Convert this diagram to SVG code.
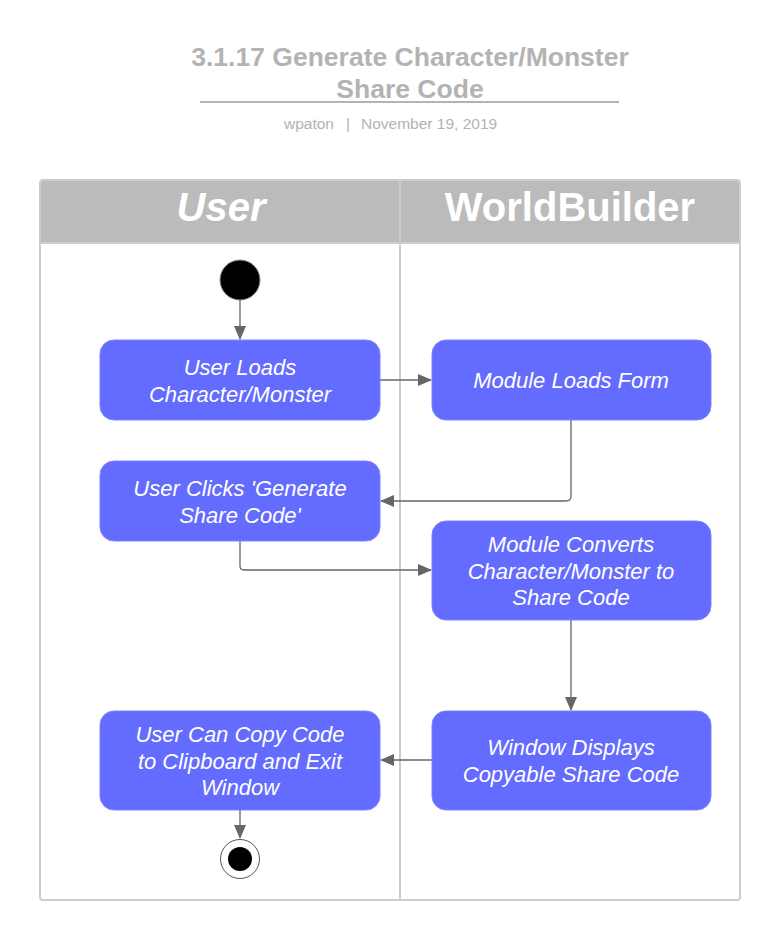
<svg xmlns="http://www.w3.org/2000/svg" width="780" height="940" viewBox="0 0 780 940">
<style>
.title{font-family:"Liberation Sans",Arial,sans-serif;font-weight:bold;font-size:26.5px;fill:#b3b3b3;text-anchor:middle}
.sub{font-family:"Liberation Sans",Arial,sans-serif;font-size:15.5px;fill:#b3b3b3}
.hdr{font-family:"Liberation Sans",Arial,sans-serif;font-weight:bold;font-size:40px;fill:#ffffff;text-anchor:middle}
.box{fill:#646bff;stroke:#7d84ff;stroke-width:1}
.lbl{font-family:"Liberation Sans",Arial,sans-serif;font-style:italic;font-size:22px;fill:#ffffff;text-anchor:middle}
.edge{fill:none;stroke:#666666;stroke-width:1.3}
</style>
<defs>
<marker id="arr" markerWidth="14" markerHeight="12" refX="13" refY="6" orient="auto" markerUnits="userSpaceOnUse">
<path d="M0,0 L14,6 L0,12 Z" fill="#666666"/>
</marker>
</defs>
<rect width="780" height="940" fill="#ffffff"/>
<g id="title">
<text class="title" x="410" y="66">3.1.17 Generate Character/Monster</text>
<text class="title" x="410" y="98">Share Code</text>
<line x1="200" y1="102" x2="619" y2="102" stroke="#b3b3b3" stroke-width="2"/>
<text class="sub" x="284" y="129">wpaton</text>
<text class="sub" x="346" y="129">|</text>
<text class="sub" x="361" y="129">November 19, 2019</text>
</g>
<g id="swimlanes">
<rect x="40" y="180" width="700" height="720" rx="3" fill="#ffffff" stroke="#cccccc" stroke-width="2"/>
<path d="M41,243 L41,183 Q41,181 43,181 L737,181 Q739,181 739,183 L739,243 Z" fill="#bbbbbc"/>
<line x1="40" y1="243" x2="740" y2="243" stroke="#cccccc" stroke-width="2"/>
<line x1="400" y1="181" x2="400" y2="900" stroke="#cccccc" stroke-width="2"/>
<text class="hdr" x="221" y="221" font-style="italic">User</text>
<text class="hdr" x="570" y="221">WorldBuilder</text>
</g>
<g id="connectors">
<path class="edge" d="M240,300 L240,339" marker-end="url(#arr)"/>
<path class="edge" d="M380,380 L431,380" marker-end="url(#arr)"/>
<path class="edge" d="M571,420 L571,496 Q571,501 566,501 L381,501" marker-end="url(#arr)"/>
<path class="edge" d="M240,541 L240,566 Q240,570 244,570 L431,570" marker-end="url(#arr)"/>
<path class="edge" d="M571,620 L571,710" marker-end="url(#arr)"/>
<path class="edge" d="M432,760 L381,760" marker-end="url(#arr)"/>
<path class="edge" d="M240,810 L240,838" marker-end="url(#arr)"/>
</g>
<g id="start">
<circle cx="240" cy="280" r="20" fill="#000000" stroke="#888888" stroke-width="1"/>
</g>
<g id="n1">
<rect class="box" x="100" y="340" width="280" height="80" rx="14"/>
<text class="lbl" x="240" y="375">User Loads</text>
<text class="lbl" x="240" y="402">Character/Monster</text>
</g>
<g id="n2">
<rect class="box" x="432" y="340" width="279" height="80" rx="14"/>
<text class="lbl" x="571" y="388">Module Loads Form</text>
</g>
<g id="n3">
<rect class="box" x="100" y="461" width="280" height="80" rx="14"/>
<text class="lbl" x="240" y="496">User Clicks 'Generate</text>
<text class="lbl" x="240" y="523">Share Code'</text>
</g>
<g id="n4">
<rect class="box" x="432" y="521" width="279" height="99" rx="14"/>
<text class="lbl" x="571" y="552">Module Converts</text>
<text class="lbl" x="571" y="579">Character/Monster to</text>
<text class="lbl" x="571" y="605">Share Code</text>
</g>
<g id="n5">
<rect class="box" x="432" y="711" width="279" height="99" rx="14"/>
<text class="lbl" x="571" y="755">Window Displays</text>
<text class="lbl" x="571" y="782">Copyable Share Code</text>
</g>
<g id="n6">
<rect class="box" x="100" y="711" width="280" height="99" rx="14"/>
<text class="lbl" x="240" y="742">User Can Copy Code</text>
<text class="lbl" x="240" y="769">to Clipboard and Exit</text>
<text class="lbl" x="240" y="795">Window</text>
</g>
<g id="end">
<circle cx="240" cy="859" r="19.5" fill="#ffffff" stroke="#555555" stroke-width="1"/>
<circle cx="240" cy="859" r="12" fill="#000000"/>
</g>
</svg>
